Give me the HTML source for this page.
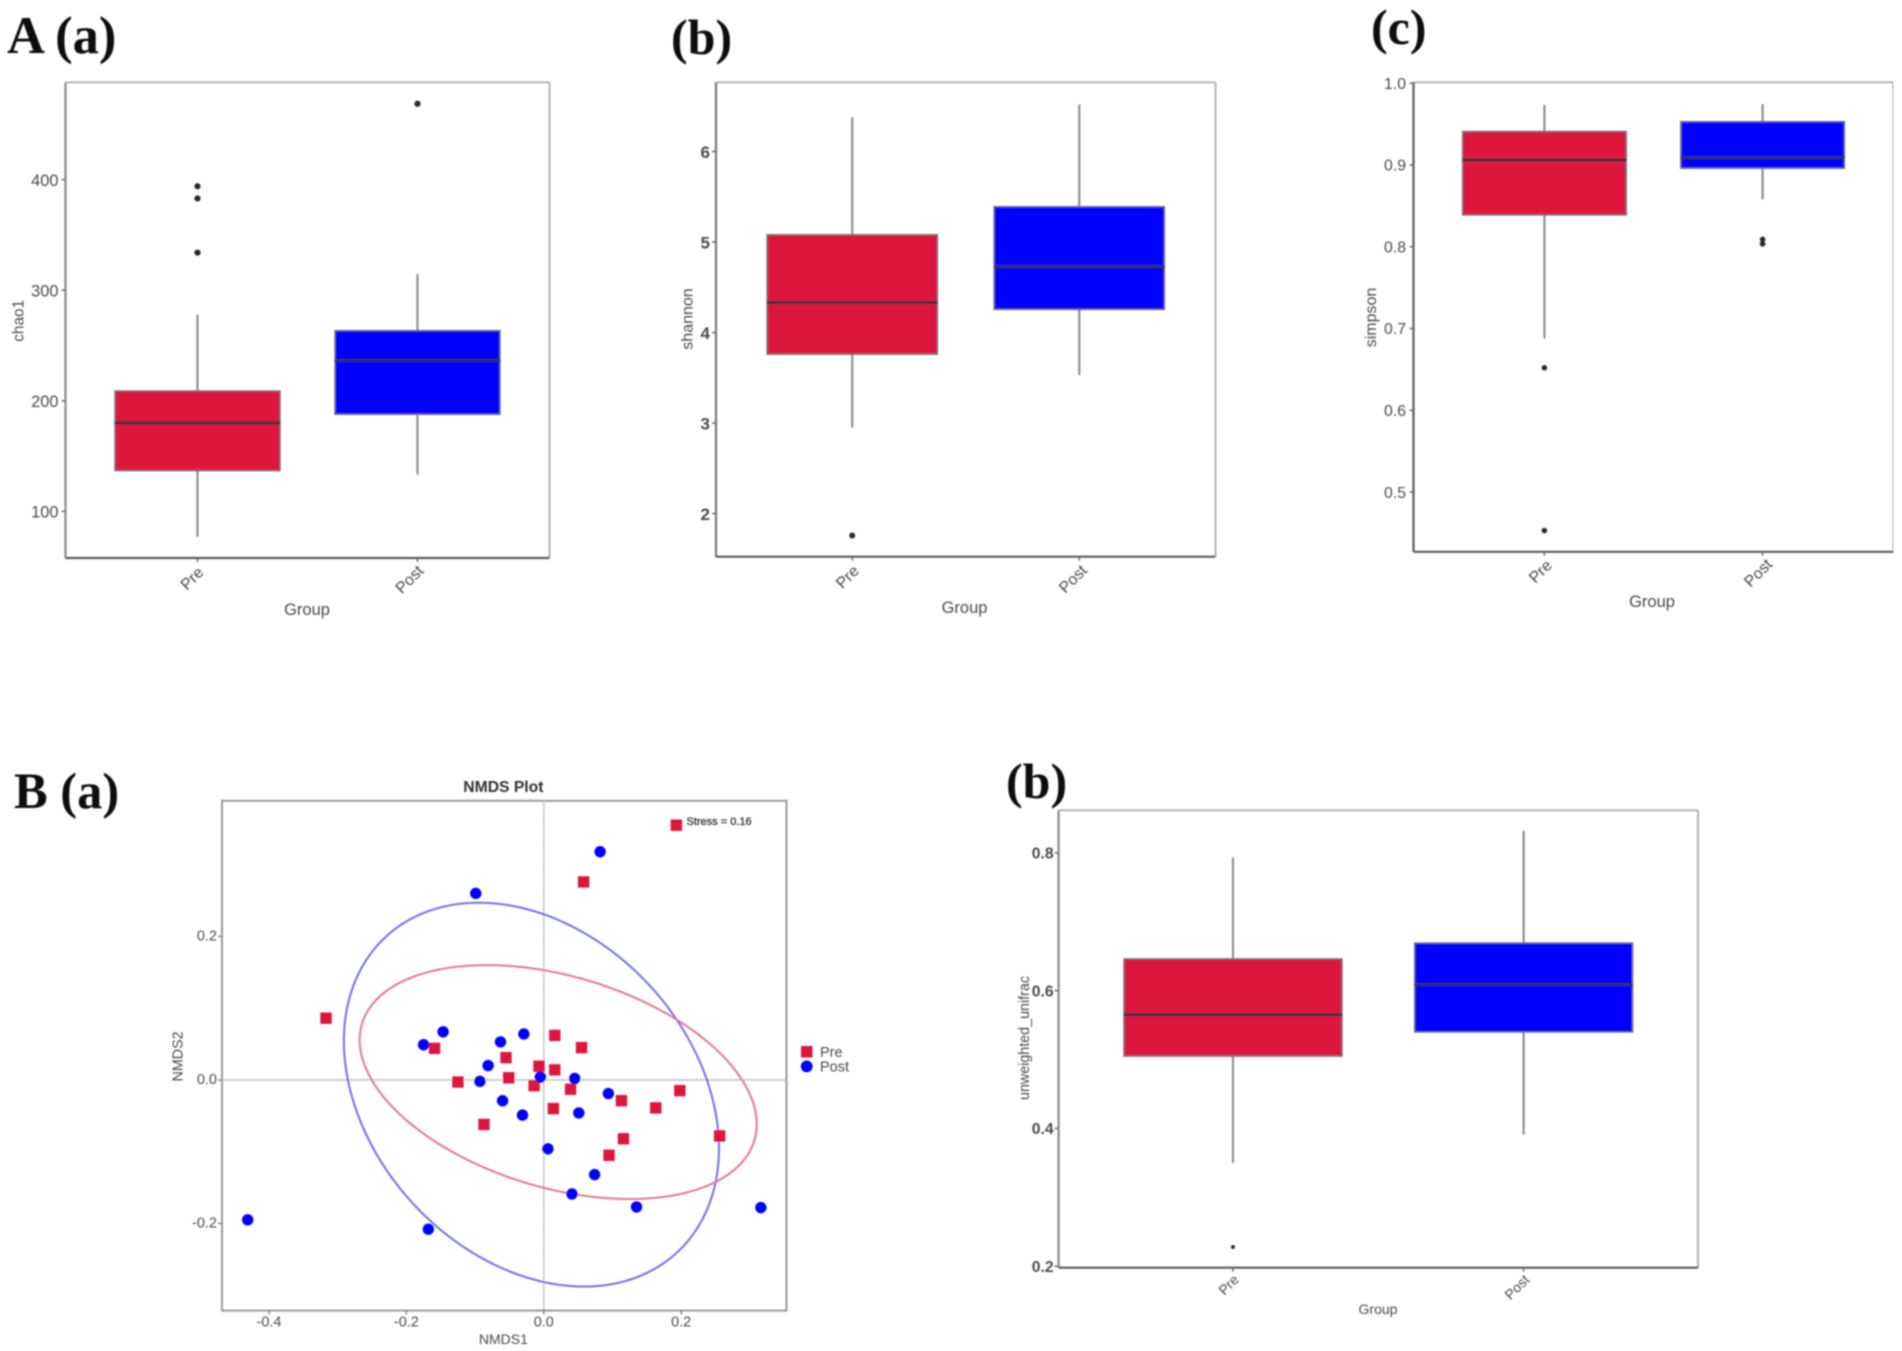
<!DOCTYPE html>
<html lang="en">
<head>
<meta charset="utf-8">
<title>Alpha and beta diversity, pre and post</title>
<style>
  html, body { margin: 0; padding: 0; background: #fff; }
  svg { display: block; }
  text { font-family: "Liberation Sans", Arial, sans-serif; fill: #4a4a4a; }
  .panel-letter { font-family: "Liberation Serif", "Times New Roman", serif; font-weight: bold; font-size: 50px; fill: #0a0a0a; }
  .axis-title { text-anchor: middle; dominant-baseline: central; }
</style>
</head>
<body>
<svg id="fig" xmlns="http://www.w3.org/2000/svg" width="1902" height="1351" viewBox="0 0 1902 1351">
  <defs>
    <filter id="soft" x="0" y="0" width="100%" height="100%" filterUnits="objectBoundingBox">
      <feGaussianBlur stdDeviation="0.7"/>
    </filter>
  </defs>
  <rect x="0" y="0" width="1902" height="1351" fill="#ffffff"/>
  <g id="root" filter="url(#soft)">
    <g id="marks"></g>

    <text class="panel-letter" x="7" y="53" style="font-size:52.5px">A (a)</text>
    <text class="panel-letter" x="671" y="54">(b)</text>
    <text class="panel-letter" x="1371" y="44">(c)</text>
    <text class="panel-letter" x="14" y="808" style="font-size:50.5px">B (a)</text>
    <text class="panel-letter" x="1006" y="798">(b)</text>

    <text class="axis-title" x="19" y="320.8" font-size="15.4" transform="rotate(-90 19 320.8)">chao1</text>
    <text class="axis-title" x="307" y="610" font-size="16.5">Group</text>

    <text class="axis-title" x="688" y="319" font-size="16" transform="rotate(-90 688 319)">shannon</text>
    <text class="axis-title" x="964.5" y="608" font-size="16.5">Group</text>

    <text class="axis-title" x="1371.5" y="317.5" font-size="16" transform="rotate(-90 1371.5 317.5)">simpson</text>
    <text class="axis-title" x="1652" y="602" font-size="16.5">Group</text>

    <text class="axis-title" x="1025" y="1038" font-size="14.3" transform="rotate(-90 1025 1038)">unweighted_unifrac</text>
    <text class="axis-title" x="1378" y="1309" font-size="14">Group</text>

    <text class="axis-title" x="503.4" y="787.6" font-size="15.7" font-weight="bold" style="fill:#333">NMDS Plot</text>
    <text class="axis-title" x="503.4" y="1339" font-size="14">NMDS1</text>
    <text class="axis-title" x="178.6" y="1056.4" font-size="14.3" transform="rotate(-90 178.6 1056.4)">NMDS2</text>
    <text x="686.5" y="825" font-size="11" stroke="#333" stroke-width="0.3" style="fill:#333">Stress = 0.16</text>

    <rect x="801" y="1046" width="11.5" height="11.5" fill="#dc143c"/>
    <text x="820" y="1057" font-size="14.5">Pre</text>
    <circle cx="806.7" cy="1066.4" r="5.9" fill="#0000ff"/>
    <text x="820" y="1071.5" font-size="14.5">Post</text>
  </g>
</svg>
<script>
// Shared categories
const groups = ['Pre', 'Post'];

// Boxplot stats are [lower whisker, Q1, median, Q3, upper whisker]
const chaoTicks = ['100', '200', '300', '400'];
const chaoPre = [77, 136.9, 180, 208.9, 278];
const chaoPost = [133.5, 187.8, 236.5, 263.5, 314.4];
const chaoPreOutliers = [334, 383, 394];
const chaoPostOutliers = [468.6];

const shannonTicks = ['2', '3', '4', '5', '6'];
const shannonPre = [2.95, 3.76, 4.33, 5.08, 6.38];
const shannonPost = [3.53, 4.255, 4.73, 5.39, 6.52];
const shannonPreOutliers = [1.757];
const shannonPostOutliers = [];

const simpsonTicks = ['0.5', '0.6', '0.7', '0.8', '0.9', '1.0'];
const simpsonPre = [0.688, 0.839, 0.906, 0.941, 0.9735];
const simpsonPost = [0.858, 0.896, 0.909, 0.953, 0.9745];
const simpsonPreOutliers = [0.453, 0.652];
const simpsonPostOutliers = [0.8035, 0.809];

const unifracTicks = ['0.2', '0.4', '0.6', '0.8'];
const unifracPre = [0.350, 0.505, 0.565, 0.646, 0.793];
const unifracPost = [0.391, 0.540, 0.609, 0.669, 0.832];
const unifracPreOutliers = [0.228];
const unifracPostOutliers = [];

// NMDS ordination
const nmdsXTicks = ['-0.4', '-0.2', '0.0', '0.2'];
const nmdsYTicks = ['-0.2', '0.0', '0.2'];
const nmdsPreX = [0.016, 0.055, -0.159, -0.055, -0.007, 0.016, -0.051, -0.125, -0.014, 0.039, 0.198, 0.113, 0.163, 0.014, -0.087, 0.256, 0.116, 0.095, -0.317, 0.058, 0.193];
const nmdsPreY = [0.062, 0.045, 0.044, 0.031, 0.019, 0.014, 0.003, -0.003, -0.008, -0.013, -0.015, -0.029, -0.039, -0.040, -0.062, -0.078, -0.082, -0.105, 0.086, 0.276, 0.355];
const nmdsPostX = [-0.1465, -0.175, -0.063, -0.029, -0.081, -0.093, -0.005, 0.045, 0.094, -0.060, -0.031, 0.051, 0.006, 0.074, 0.041, 0.135, -0.168, -0.431, 0.316, 0.082, -0.099];
const nmdsPostY = [0.067, 0.049, 0.053, 0.064, 0.020, -0.002, 0.004, 0.002, -0.019, -0.029, -0.049, -0.046, -0.096, -0.132, -0.159, -0.177, -0.208, -0.195, -0.178, 0.318, 0.260];
// Ellipses are [centre x, centre y, x radius, y radius, correlation]
const nmdsPreEllipse = [0.021, -0.003, 0.289, 0.163, -0.36];
const nmdsPostEllipse = [-0.018, -0.0205, 0.273, 0.2675, -0.28];

const SVG_NS = 'http://www.w3.org/2000/svg';
const layer = document.getElementById('marks');

function mk(tag, attrs, parent) {
  const el = document.createElementNS(SVG_NS, tag);
  Object.keys(attrs).forEach(function (k) { el.setAttribute(k, attrs[k]); });
  (parent || layer).appendChild(el);
  return el;
}

function linear(d0, d1, r0, r1) {
  return function (v) { return r0 + (v - d0) * (r1 - r0) / (d1 - d0); };
}

function drawFrame(key, p, g) {
  const top = mk('line', { x1: p.left, x2: p.right, y1: p.top, y2: p.top, stroke: '#b4b4b4', 'stroke-width': 2 }, g);
  
  
  const right = mk('line', { x1: p.right, x2: p.right, y1: p.top, y2: p.bottom, stroke: '#b4b4b4', 'stroke-width': 2 }, g);
  
  
  const left = mk('line', { x1: p.left, x2: p.left, y1: p.top, y2: p.bottom, stroke: p.leftColor, 'stroke-width': 2.2 }, g);
  
  
  const bottom = mk('line', { x1: p.left, x2: p.right, y1: p.bottom, y2: p.bottom, stroke: '#5c5c5c', 'stroke-width': 2.2 }, g);
  
  
}

function drawYTicks(key, p, y, ticks, g) {
  ticks.forEach(function (t) {
    const tick = mk('line', { x1: p.left - 4, x2: p.left, y1: y(parseFloat(t)), y2: y(parseFloat(t)), stroke: '#666', 'stroke-width': 1.4 }, g);
    
    
    const label = mk('text', { x: p.left - p.tickGap, y: y(parseFloat(t)) + 1.2, 'text-anchor': 'end', 'dominant-baseline': 'central', 'font-size': p.tickSize, 'font-weight': p.tickWeight }, g);
    label.textContent = t;
    
    
  });
}

function drawBoxplot(key, p, ticks, stats, outliers) {
  const g = mk('g', {});
  
  
  const y = linear(p.dMin, p.dMax, p.bottom, p.top);
  const unit = (p.right - p.left) / 2.2;
  const halfW = 0.375 * unit;
  drawFrame(key, p, g);
  drawYTicks(key, p, y, ticks, g);
  groups.forEach(function (name, i) {
    const cx = p.left + (i + 0.6) * unit;
    const s = stats[i];
    const fill = i === 0 ? '#dc143c' : '#0000ff';
    const id = key + '-' + name.toLowerCase();

    const xt = mk('line', { x1: cx, x2: cx, y1: p.bottom, y2: p.bottom + 4, stroke: '#666', 'stroke-width': 1.4 }, g);
    
    

    const whisker = mk('line', { x1: cx, x2: cx, y1: y(s[0]), y2: y(s[4]), stroke: '#8a8a8a', 'stroke-width': 2.1 }, g);
    
    

    const box = mk('rect', { x: cx - halfW, width: 2 * halfW, y: y(s[3]), height: y(s[1]) - y(s[3]), fill: fill, stroke: '#6f6f7a', 'stroke-width': 1.4 }, g);
    
    

    const median = mk('line', { x1: cx - halfW, x2: cx + halfW, y1: y(s[2]), y2: y(s[2]), stroke: '#33303f', 'stroke-width': 2.8 }, g);
    
    

    outliers[i].forEach(function (v) {
      const o = mk('circle', { cx: cx, cy: y(v), r: p.outlierR, fill: '#2a2a2a' }, g);
      
      
    });

    const pos = p.labels[i];
    const lab = mk('text', { x: pos[0], y: pos[1], 'text-anchor': 'middle', 'dominant-baseline': 'central', 'font-size': p.catSize, transform: 'rotate(-45 ' + pos[0] + ' ' + pos[1] + ')' }, g);
    lab.textContent = name;
    
    
  });
}

drawBoxplot('chao1',
  { left: 65.5, right: 549.5, top: 82.4, bottom: 558, dMin: 57.9, dMax: 487.9, leftColor: '#8a8a8a', tickGap: 7, tickSize: 16.4, tickWeight: 'normal', outlierR: 3.1, catSize: 16, labels: [[192.6, 579], [410, 580]] },
  chaoTicks, [chaoPre, chaoPost], [chaoPreOutliers, chaoPostOutliers]);

drawBoxplot('shannon',
  { left: 716, right: 1215.5, top: 82.4, bottom: 556.7, dMin: 1.523, dMax: 6.763, leftColor: '#777', tickGap: 6, tickSize: 17, tickWeight: 'bold', outlierR: 3, catSize: 16, labels: [[848, 577.5], [1073.5, 579.6]] },
  shannonTicks, [shannonPre, shannonPost], [shannonPreOutliers, shannonPostOutliers]);

drawBoxplot('simpson',
  { left: 1413.5, right: 1893.5, top: 82.4, bottom: 551.8, dMin: 0.427, dMax: 1.001, leftColor: '#5c5c5c', tickGap: 7.5, tickSize: 15.8, tickWeight: 'normal', outlierR: 2.8, catSize: 16, labels: [[1541, 572], [1758.7, 573.5]] },
  simpsonTicks, [simpsonPre, simpsonPost], [simpsonPreOutliers, simpsonPostOutliers]);

drawBoxplot('unifrac',
  { left: 1058.6, right: 1698, top: 810.3, bottom: 1267.7, dMin: 0.198, dMax: 0.8616, leftColor: '#8a8a8a', tickGap: 5, tickSize: 15.7, tickWeight: 'bold', outlierR: 2, catSize: 14, labels: [[1228.5, 1284.6], [1516.9, 1287]] },
  unifracTicks, [unifracPre, unifracPost], [unifracPreOutliers, unifracPostOutliers]);

function drawNmds() {
  const p = { left: 222, right: 786.5, top: 800.8, bottom: 1310.6, dxMin: -0.4684, dxMax: 0.3533, dyMin: -0.3215, dyMax: 0.389 };
  const g = mk('g', {});
  
  
  const x = linear(p.dxMin, p.dxMax, p.left, p.right);
  const y = linear(p.dyMin, p.dyMax, p.bottom, p.top);

  const frame = mk('rect', { x: p.left, y: p.top, width: p.right - p.left, height: p.bottom - p.top, fill: 'none', stroke: '#9a9a9a', 'stroke-width': 2 }, g);
  
  

  const h0 = mk('line', { x1: p.left, x2: p.right, y1: y(0), y2: y(0), stroke: '#b5b5b5', 'stroke-width': 1.8, 'stroke-dasharray': '2 1' }, g);
  
  
  const v0 = mk('line', { x1: x(0), x2: x(0), y1: p.top, y2: p.bottom, stroke: '#b5b5b5', 'stroke-width': 1.8, 'stroke-dasharray': '2 1' }, g);
  
  

  nmdsXTicks.forEach(function (t) {
    const v = parseFloat(t);
    const tick = mk('line', { x1: x(v), x2: x(v), y1: p.bottom, y2: p.bottom + 4, stroke: '#777', 'stroke-width': 1.3 }, g);
    
    
    const lab = mk('text', { x: x(v), y: 1322.7, 'text-anchor': 'middle', 'dominant-baseline': 'central', 'font-size': 14.5 }, g);
    lab.textContent = t;
    
    
  });
  nmdsYTicks.forEach(function (t) {
    const v = parseFloat(t);
    const tick = mk('line', { x1: p.left - 4, x2: p.left, y1: y(v), y2: y(v), stroke: '#777', 'stroke-width': 1.3 }, g);
    
    
    const lab = mk('text', { x: p.left - 5, y: y(v), 'text-anchor': 'end', 'dominant-baseline': 'central', 'font-size': 14.5 }, g);
    lab.textContent = t;
    
    
  });

  function ellipsePath(e) {
    let d = '';
    for (let i = 0; i <= 180; i++) {
      const t = i / 180 * 2 * Math.PI;
      const px = x(e[0] + e[2] * Math.cos(t));
      const py = y(e[1] + e[3] * (e[4] * Math.cos(t) + Math.sqrt(1 - e[4] * e[4]) * Math.sin(t)));
      d += (i === 0 ? 'M' : 'L') + px.toFixed(2) + ' ' + py.toFixed(2);
    }
    return d + 'Z';
  }
  const ePost = mk('path', { d: ellipsePath(nmdsPostEllipse), fill: 'none', stroke: '#6f6fea', 'stroke-width': 2 }, g);
  
  
  const ePre = mk('path', { d: ellipsePath(nmdsPreEllipse), fill: 'none', stroke: '#e5768c', 'stroke-width': 2 }, g);
  
  

  nmdsPreX.forEach(function (v, i) {
    const s = mk('rect', { x: x(v) - 5.7, y: y(nmdsPreY[i]) - 5.7, width: 11.4, height: 11.4, fill: '#dc143c' }, g);
    
    
  });
  nmdsPostX.forEach(function (v, i) {
    const c = mk('circle', { cx: x(v), cy: y(nmdsPostY[i]), r: 5.7, fill: '#0000ff' }, g);
    
    
  });
}
drawNmds();
</script>
</body>
</html>
